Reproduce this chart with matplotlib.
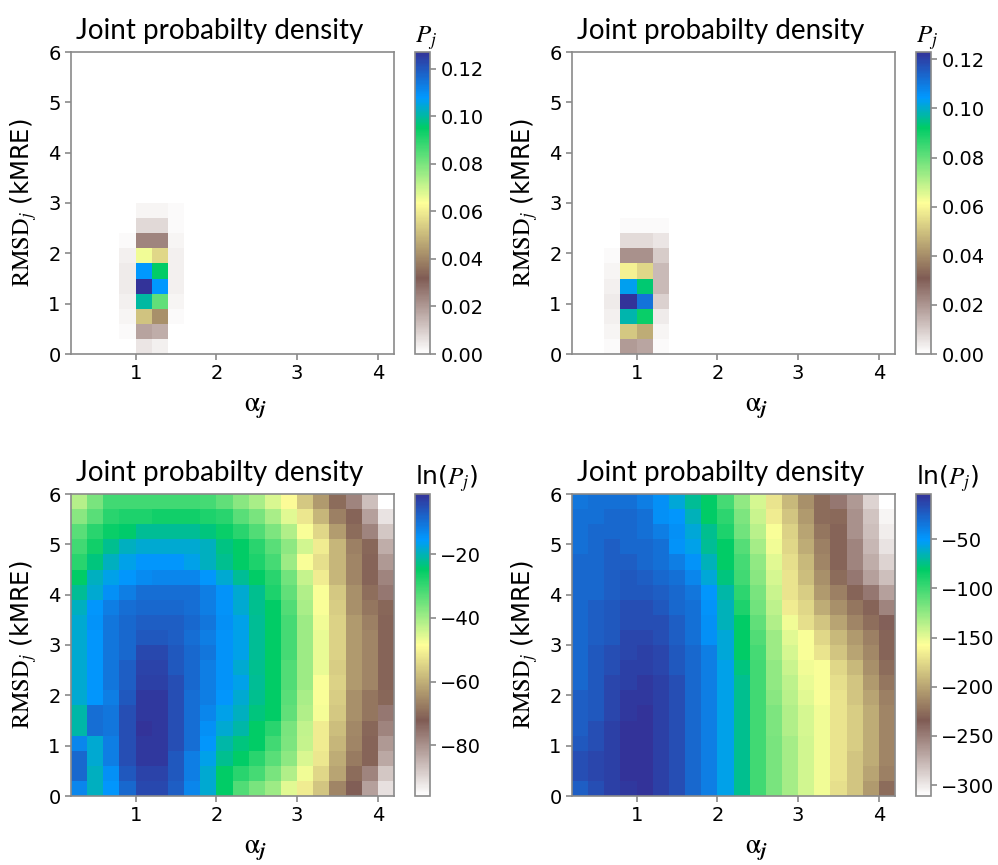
import matplotlib
matplotlib.use("Agg")
import matplotlib.pyplot as plt
import numpy as np

plt.rcParams['mathtext.fontset'] = 'stix'
plt.rcParams['font.family'] = ['DejaVu Sans']

# grid: 20 alpha bins (0.2 .. 4.2), 20 RMSD bins (0 .. 6)
alpha_edges = np.linspace(0.2, 4.2, 21)
rmsd_edges = np.linspace(0.0, 6.0, 21)

# top panels: only a few non-empty bins, rows listed from RMSD bin 0 upwards
tl_cols = [3, 4, 5, 6]
tl_block = [
    [0.000, 0.005, 0.003, 0.000],
    [0.001, 0.018, 0.016, 0.000],
    [0.002, 0.052, 0.042, 0.001],
    [0.003, 0.100, 0.083, 0.002],
    [0.004, 0.127, 0.108, 0.003],
    [0.004, 0.108, 0.095, 0.003],
    [0.003, 0.065, 0.056, 0.003],
    [0.001, 0.024, 0.024, 0.002],
    [0.000, 0.0076, 0.0076, 0.001],
    [0.000, 0.002, 0.002, 0.001],
]
tr_cols = [2, 3, 4, 5]
tr_block = [
    [0.001, 0.019, 0.017, 0.001],
    [0.002, 0.051, 0.046, 0.002],
    [0.003, 0.098, 0.091, 0.004],
    [0.004, 0.123, 0.111, 0.009],
    [0.003, 0.103, 0.093, 0.013],
    [0.002, 0.059, 0.054, 0.013],
    [0.001, 0.021, 0.021, 0.010],
    [0.000, 0.007, 0.007, 0.005],
    [0.000, 0.001, 0.001, 0.001],
]

# bottom-left ln(P), rows from top (RMSD 5.7-6.0) to bottom (0-0.3)
bl_lnp = [
    [-41.8, -36.0, -30.7, -30.7, -30.7, -30.7, -30.7, -30.7, -31.4, -33.7, -37.4, -40.4, -44.8, -49.0, -56.6, -63.2, -69.9, -78.0, -86.5, -96.0],
    [-37.4, -33.0, -28.8, -27.6, -27.6, -26.5, -26.5, -26.5, -27.6, -28.8, -33.0, -36.0, -40.4, -45.6, -52.2, -58.9, -67.0, -70.8, -82.2, -91.7],
    [-33.0, -28.8, -25.5, -24.5, -22.0, -22.0, -22.0, -22.0, -23.3, -25.5, -28.8, -32.3, -36.6, -41.1, -48.0, -54.2, -62.7, -69.9, -78.0, -87.5],
    [-30.7, -26.5, -22.4, -19.5, -18.1, -18.1, -18.1, -18.1, -19.5, -23.0, -24.8, -28.8, -33.0, -38.1, -44.2, -51.4, -58.9, -67.0, -70.4, -84.0],
    [-28.8, -23.3, -19.5, -16.7, -15.0, -15.0, -15.0, -16.7, -19.5, -22.4, -24.8, -27.6, -31.4, -39.5, -48.0, -53.0, -59.0, -66.0, -70.8, -80.8],
    [-24.8, -19.5, -16.7, -15.0, -13.5, -12.8, -12.8, -12.8, -15.0, -18.1, -21.9, -24.8, -28.8, -35.2, -43.3, -51.4, -58.9, -66.1, -70.8, -78.0],
    [-21.9, -18.1, -14.0, -11.5, -9.5, -9.5, -9.5, -9.5, -11.5, -14.6, -18.1, -22.4, -27.6, -33.7, -41.1, -48.0, -56.6, -64.6, -69.4, -76.0],
    [-19.5, -15.0, -11.5, -9.5, -8.6, -8.6, -8.6, -9.5, -11.5, -14.6, -18.1, -22.4, -24.8, -32.3, -40.4, -48.0, -55.6, -64.6, -68.4, -70.4],
    [-18.1, -14.6, -10.5, -8.6, -7.2, -7.2, -7.2, -8.6, -10.5, -14.0, -16.7, -21.9, -24.8, -31.4, -39.5, -47.1, -55.0, -63.2, -67.0, -70.8],
    [-18.1, -15.0, -10.5, -8.6, -6.2, -6.2, -7.2, -9.5, -11.5, -14.6, -16.7, -21.9, -24.8, -31.4, -39.5, -46.6, -55.0, -63.2, -66.1, -70.8],
    [-18.1, -15.0, -10.5, -8.6, -4.0, -4.0, -6.2, -8.6, -10.5, -14.6, -16.7, -21.9, -24.8, -31.4, -39.5, -46.6, -55.0, -63.2, -66.1, -70.8],
    [-18.1, -15.0, -10.5, -7.2, -3.5, -3.5, -6.2, -8.6, -11.5, -14.6, -18.1, -22.4, -24.8, -32.3, -39.5, -46.6, -55.6, -63.2, -66.1, -70.8],
    [-18.1, -15.0, -10.5, -7.2, -3.0, -3.0, -5.0, -8.6, -11.5, -14.6, -16.7, -21.9, -24.8, -32.3, -39.5, -48.0, -55.0, -63.2, -66.1, -70.8],
    [-18.1, -15.0, -11.5, -6.2, -2.0, -2.0, -5.0, -9.5, -11.5, -15.0, -18.1, -22.4, -24.8, -33.0, -40.4, -48.0, -55.6, -64.6, -68.4, -70.4],
    [-21.0, -9.5, -10.5, -5.0, -2.0, -2.0, -5.0, -9.5, -12.8, -16.7, -19.5, -23.3, -24.8, -33.7, -41.1, -47.5, -56.6, -64.6, -68.4, -76.0],
    [-21.0, -9.5, -10.5, -5.0, -1.0, -2.0, -5.0, -9.5, -14.0, -18.1, -21.0, -24.8, -28.8, -36.0, -42.6, -51.4, -58.0, -65.6, -70.4, -78.0],
    [-12.8, -18.1, -11.5, -5.0, -2.0, -2.0, -5.0, -9.5, -15.0, -21.0, -23.3, -24.8, -30.7, -36.6, -43.3, -51.4, -58.9, -66.1, -70.8, -80.8],
    [-8.6, -18.1, -11.5, -5.0, -2.0, -2.0, -6.2, -11.5, -16.7, -22.4, -24.8, -28.8, -33.0, -38.1, -44.8, -52.2, -60.4, -67.5, -70.8, -83.3],
    [-8.6, -19.5, -14.0, -6.5, -3.5, -3.5, -6.5, -11.5, -18.1, -24.8, -28.8, -31.4, -36.0, -41.1, -47.1, -54.2, -61.8, -69.9, -78.0, -87.5],
    [-12.8, -19.5, -15.0, -8.6, -4.0, -4.0, -7.2, -12.8, -18.1, -24.8, -32.3, -36.0, -39.5, -45.6, -51.4, -57.0, -66.1, -72.3, -82.2, -91.2],
]

# bottom-right ln(P), rows from top to bottom
br_lnp = [
    [-35, -32, -32, -32, -38, -46, -59, -72, -81, -102, -124, -145, -170, -191, -210, -227, -247, -262, -290, -311],
    [-32, -32, -29, -29, -32, -46, -49, -64, -81, -94, -119, -141, -167, -185, -205, -227, -228, -259, -283, -306],
    [-32, -29, -29, -29, -32, -38, -46, -59, -73, -90, -115, -136, -156, -179, -200, -222, -230, -259, -280, -302],
    [-32, -29, -24, -29, -29, -32, -48, -55, -72, -81, -107, -131, -153, -176, -196, -217, -230, -253, -277, -297],
    [-29, -29, -24, -24, -29, -32, -38, -48, -64, -81, -102, -124, -148, -173, -191, -214, -230, -253, -272, -290],
    [-29, -29, -24, -21, -24, -29, -32, -42, -59, -76, -100, -122, -145, -170, -188, -210, -227, -247, -266, -280],
    [-29, -29, -24, -21, -21, -24, -29, -35, -49, -68, -94, -117, -141, -170, -181, -205, -217, -230, -247, -266],
    [-29, -24, -21, -16, -16, -21, -29, -32, -48, -64, -90, -115, -138, -167, -176, -196, -210, -222, -230, -253],
    [-29, -24, -21, -16, -16, -16, -24, -32, -46, -64, -81, -110, -134, -153, -173, -185, -200, -214, -225, -236],
    [-29, -24, -21, -13, -13, -16, -24, -32, -46, -59, -81, -105, -128, -148, -156, -176, -191, -205, -217, -230],
    [-29, -21, -16, -13, -10, -13, -21, -29, -38, -59, -81, -102, -128, -145, -156, -170, -184, -200, -213, -230],
    [-29, -21, -16, -10, -10, -13, -21, -29, -38, -55, -76, -100, -124, -141, -153, -156, -176, -191, -210, -227],
    [-29, -21, -13, -10, -7, -10, -16, -29, -38, -55, -73, -100, -124, -138, -151, -156, -173, -185, -205, -222],
    [-24, -21, -13, -7, -7, -10, -16, -29, -38, -55, -73, -100, -122, -136, -148, -156, -170, -184, -200, -217],
    [-24, -21, -13, -7, -4, -10, -16, -29, -38, -55, -73, -100, -119, -134, -145, -153, -170, -181, -196, -214],
    [-24, -16, -10, -4, -4, -10, -16, -29, -38, -55, -73, -100, -119, -134, -145, -153, -170, -181, -196, -214],
    [-21, -16, -10, -4, -4, -10, -16, -29, -38, -55, -73, -100, -117, -131, -144, -153, -170, -181, -196, -214],
    [-16, -13, -10, -4, -4, -10, -16, -29, -38, -55, -73, -100, -117, -131, -144, -153, -170, -185, -196, -214],
    [-16, -13, -10, -4, -4, -10, -16, -29, -38, -55, -73, -100, -117, -131, -144, -153, -170, -185, -200, -217],
    [-24, -16, -10, -7, -4, -10, -16, -29, -38, -55, -73, -100, -117, -131, -144, -153, -173, -185, -205, -227],
]


def block_grid(cols, block):
    grid = np.zeros((20, 20))
    for r, row in enumerate(block):
        for c, v in zip(cols, row):
            grid[r, c] = v
    return grid


tl = block_grid(tl_cols, tl_block)
tr = block_grid(tr_cols, tr_block)
bl = np.array(bl_lnp)[::-1]
br = np.array(br_lnp)[::-1]

fig = plt.figure(figsize=(9.98, 8.65), dpi=100)

W, H = 998, 865
def px_axes(x0, y0, w, h):
    return fig.add_axes([x0 / W, 1 - (y0 + h) / H, w / W, h / H])

panels = [
    (71, 52, tl, r'$P_j$', [0, 0.02, 0.04, 0.06, 0.08, 0.10, 0.12], '%.2f'),
    (572, 52, tr, r'$P_j$', [0, 0.02, 0.04, 0.06, 0.08, 0.10, 0.12], '%.2f'),
    (71, 494, bl, r'ln($P_j$)', None, None),
    (572, 494, br, r'ln($P_j$)', None, None),
]

gray = '#8a8a8a'
for x0, y0, data, clabel, cticks, cfmt in panels:
    ax = px_axes(x0, y0, 323, 302)
    cax = px_axes(x0 + 344, y0, 15, 302)
    mesh = ax.pcolormesh(alpha_edges, rmsd_edges, data, cmap='terrain_r', shading='flat')
    ax.set_xlim(0.2, 4.2)
    ax.set_ylim(0, 6)
    ax.set_xticks([1, 2, 3, 4])
    ax.set_yticks([0, 1, 2, 3, 4, 5, 6])
    ax.tick_params(labelsize=14, color=gray, width=1.2, length=4)
    for s in ax.spines.values():
        s.set_color(gray)
        s.set_linewidth(1.2)
    ax.set_xlabel(r'$\mathrm{\alpha}_{\mathbfit{j}}$', fontsize=20)
    ax.xaxis.set_label_coords(0.57, -0.13)
    ax.set_ylabel(r'$\mathrm{RMSD}_j$ (kMRE)', fontsize=17.5)
    ax.yaxis.set_label_coords(-0.10, 0.5)
    ax.annotate('Joint probabilty density', xy=(0.46, 1.0), xycoords='axes fraction',
                xytext=(0, 6), textcoords='offset points', ha='center', va='bottom',
                fontsize=20, family='Lato')

    cb = fig.colorbar(mesh, cax=cax)
    if cticks is not None:
        cb.set_ticks(cticks)
        cb.ax.yaxis.set_major_formatter(matplotlib.ticker.FormatStrFormatter(cfmt))
    cb.ax.tick_params(labelsize=14, color=gray, width=1.2, length=4)
    cb.outline.set_edgecolor(gray)
    cb.outline.set_linewidth(1.2)
    cb.ax.set_title(clabel, fontsize=18, pad=4, loc='left')

fig.savefig('out.png', dpi=100)
